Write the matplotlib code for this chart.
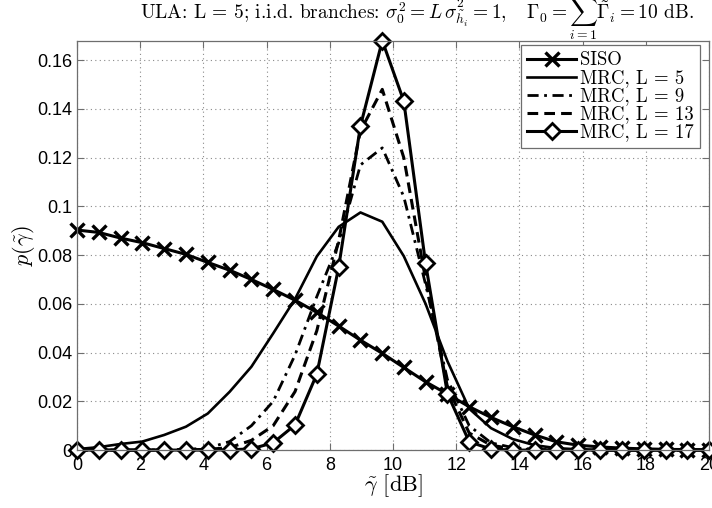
import matplotlib
matplotlib.use("Agg")
import matplotlib.pyplot as plt

# ── Data ─────────────────────────────────────────────────────────────────────
snr_db = [0.00, 0.69, 1.38, 2.07, 2.76, 3.45, 4.14, 4.83, 5.52, 6.21,
          6.90, 7.59, 8.28, 8.97, 9.66, 10.34, 11.03, 11.72, 12.41, 13.10,
          13.79, 14.48, 15.17, 15.86, 16.55, 17.24, 17.93, 18.62, 19.31, 20.00]

siso = [0.0903, 0.0893, 0.0870, 0.0851, 0.0827, 0.0803, 0.0770, 0.0738, 0.0700, 0.0659,
        0.0615, 0.0565, 0.0509, 0.0451, 0.0397, 0.0339, 0.0280, 0.0230, 0.0178, 0.0134,
        0.0096, 0.0062, 0.0034, 0.0020, 0.0013, 0.0008, 0.0005, 0.0003, 0.0002, 0.0001]

mrc_5 = [0.0004, 0.0012, 0.0025, 0.0035, 0.0062, 0.0096, 0.0150, 0.0239, 0.0342, 0.0479,
         0.0620, 0.0795, 0.0916, 0.0975, 0.0937, 0.0796, 0.0600, 0.0365, 0.0170, 0.0090,
         0.0045, 0.0020, 0.0008, 0.0003, 0.0001, 0.0, 0.0, 0.0, 0.0, 0.0]

mrc_9 = [0.0, 0.0, 0.0, 0.0, 0.0001, 0.0003, 0.0008, 0.0035, 0.0100, 0.0200,
         0.0390, 0.0630, 0.0850, 0.1170, 0.1240, 0.1040, 0.0680, 0.0290, 0.0100, 0.0030,
         0.0010, 0.0003, 0.0001, 0.0, 0.0, 0.0, 0.0, 0.0, 0.0, 0.0]

mrc_13 = [0.0, 0.0, 0.0, 0.0, 0.0, 0.0001, 0.0003, 0.0010, 0.0040, 0.0100,
          0.0240, 0.0490, 0.0860, 0.1310, 0.1480, 0.1200, 0.0700, 0.0260, 0.0070, 0.0020,
          0.0005, 0.0001, 0.0, 0.0, 0.0, 0.0, 0.0, 0.0, 0.0, 0.0]

mrc_17 = [0.0, 0.0, 0.0, 0.0, 0.0, 0.0, 0.0, 0.0001, 0.0005, 0.0030,
          0.0103, 0.0312, 0.0750, 0.1330, 0.1680, 0.1432, 0.0766, 0.0232, 0.0034, 0.0004,
          0.0, 0.0, 0.0, 0.0, 0.0, 0.0, 0.0, 0.0, 0.0, 0.0]

x_ticks = [0, 2, 4, 6, 8, 10, 12, 14, 16, 18, 20]
y_ticks = [0, 0.02, 0.04, 0.06, 0.08, 0.1, 0.12, 0.14, 0.16]
y_tick_labels = ["0", "0.02", "0.04", "0.06", "0.08", "0.1", "0.12", "0.14", "0.16"]

# ── Style ─────────────────────────────────────────────────────────────────────
plt.rcParams["mathtext.fontset"] = "cm"
plt.rcParams["axes.formatter.use_mathtext"] = True
SERIF = "cmr10"
SANS = "Liberation Sans"
AX_GRAY = "#6e6e6e"

fig = plt.figure(figsize=(7.12, 5.08), dpi=100)
ax = fig.add_axes([0.108, 0.114, 0.888, 0.806])

kw = dict(color="black", clip_on=False)
ax.plot(snr_db, siso, lw=2.2, marker="x", ms=10, mew=2.4, label="SISO", **kw)
ax.plot(snr_db, mrc_5, lw=1.9, label="MRC, L = 5", **kw)
ax.plot(snr_db, mrc_9, lw=2.0, ls=(0, (4, 2, 1, 2)), label="MRC, L = 9", **kw)
ax.plot(snr_db, mrc_13, lw=2.2, ls=(0, (3.5, 2)), label="MRC, L = 13", **kw)
ax.plot(snr_db, mrc_17, lw=2.2, marker="D", ms=8.5, mew=2.0, mfc="white",
        label="MRC, L = 17", **kw)

ax.set_xlim(0, 20)
ax.set_ylim(0, 0.168)
ax.set_xticks(x_ticks)
ax.set_yticks(y_ticks)
ax.set_xticklabels([str(t) for t in x_ticks], fontfamily=SANS, fontsize=13)
ax.set_yticklabels(y_tick_labels, fontfamily=SANS, fontsize=13)
ax.tick_params(direction="in", length=5, top=True, right=True, color=AX_GRAY)
ax.tick_params(axis="x", pad=5)
ax.tick_params(axis="y", pad=3)
for sp in ax.spines.values():
    sp.set_color(AX_GRAY)
    sp.set_linewidth(0.9)
ax.grid(True, ls=(0, (1, 3)), color="#8a8a8a", lw=0.8)

ax.set_xlabel(r"$\tilde{\gamma}$ [dB]", fontfamily=SERIF, fontsize=16, labelpad=-1)
ax.set_ylabel(r"$p(\tilde{\gamma})$", fontsize=16, labelpad=0)

# title placed by baseline, like the reference (upper sum limit falls off the top)
fig.text(140 / 712, 1 - 19 / 508,
         r"ULA: L = 5; i.i.d. branches: $\sigma_0^2 = L\,\sigma^2_{\tilde{h}_i} = 1,\quad"
         r"\Gamma_0 = \sum_{i=1}^{L}\tilde{\Gamma}_i = 10$ dB.",
         fontfamily=SERIF, fontsize=14, ha="left", va="baseline")

leg = ax.legend(loc="upper right", bbox_to_anchor=(0.9858, 0.9895),
                prop={"family": SERIF, "size": 13.5},
                fancybox=False, framealpha=1, edgecolor=AX_GRAY,
                borderpad=0.35, labelspacing=0.0, handlelength=2.6,
                handletextpad=0.2, borderaxespad=0.0)
leg.get_frame().set_linewidth(0.9)

fig.savefig("out.png", dpi=100)
